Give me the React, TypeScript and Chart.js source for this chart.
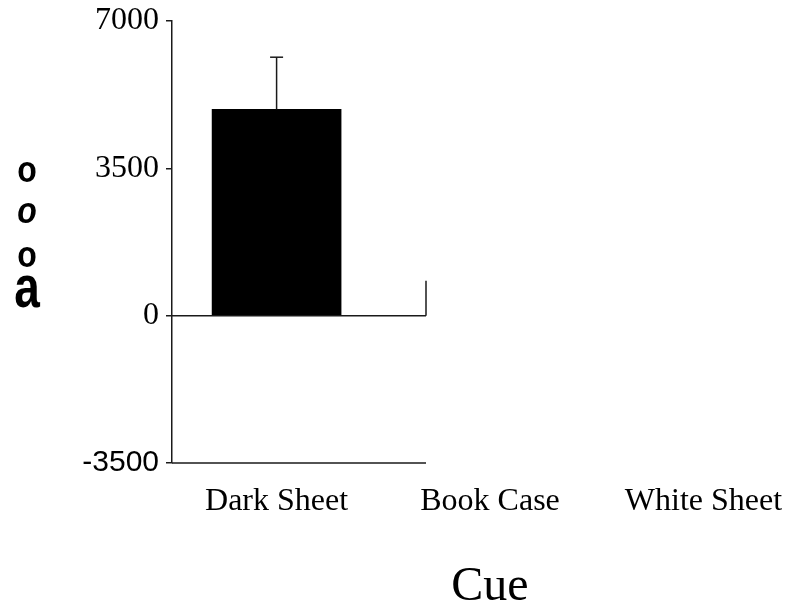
import React, { useEffect, useRef } from "react";
import { Chart, registerables } from "chart.js";

Chart.register(...registerables);

// ---- data ----
const categories = ["Dark Sheet", "Book Case", "White Sheet"];
const means = [4900, 0, 0];
const errors = [1240, 0, 0];
const yTicks = [-3500, 0, 3500, 7000];
const yMin = -3500;
const yMax = 7000;
const axisLineEnd = 0.7; // x value where the drawn baseline lines stop
const cornerStub = 830; // height of the small stub at the end of the zero line
const xTitle = "Cue";
const yTitleChars = ["o", "o", "o", "a"];

const decor = {
  id: "decor",
  afterDatasetsDraw(chart: any) {
    const { ctx, scales, chartArea } = chart;
    const x = scales.x;
    const y = scales.y;
    const line = (x1: number, y1: number, x2: number, y2: number) => {
      ctx.beginPath();
      ctx.moveTo(x1, y1);
      ctx.lineTo(x2, y2);
      ctx.stroke();
    };
    ctx.save();
    ctx.strokeStyle = "#1a1a1a";
    ctx.lineWidth = 1.5;
    const xl = chartArea.left;
    const xe = x.getPixelForValue(axisLineEnd);
    const y0 = y.getPixelForValue(0);
    const yb = y.getPixelForValue(yMin);
    line(xl, y0, xe, y0);
    line(xl, yb, xe, yb);
    line(xe, y0, xe, y.getPixelForValue(cornerStub));
    const meta = chart.getDatasetMeta(0);
    meta.data.forEach((bar: any, i: number) => {
      if (!errors[i]) return;
      const cx = bar.x;
      const top = y.getPixelForValue(means[i]);
      const et = y.getPixelForValue(means[i] + errors[i]);
      line(cx, top, cx, et);
      line(cx - 6.5, et, cx + 6.5, et);
    });
    ctx.restore();
  },
  afterDraw(chart: any) {
    const { ctx } = chart;
    ctx.save();
    ctx.fillStyle = "#000";
    ctx.textAlign = "center";
    ctx.textBaseline = "alphabetic";
    // y-axis title (stacked characters)
    const styles = [
      { font: "bold 32px 'Liberation Sans'", y: 174, sy: 1.15 },
      { font: "italic bold 32px 'Liberation Sans'", y: 215, sy: 1.15 },
      { font: "bold 32px 'Liberation Sans'", y: 259, sy: 1.15 },
      { font: "bold 46px 'Liberation Sans'", y: 299, sy: 1.3 },
    ];
    yTitleChars.forEach((ch, i) => {
      ctx.save();
      ctx.font = styles[i].font;
      ctx.translate(19, styles[i].y);
      ctx.scale(1, styles[i].sy);
      ctx.fillText(ch, 0, 0);
      ctx.restore();
    });
    // x-axis title
    ctx.font = "48px 'Liberation Serif'";
    ctx.fillText(xTitle, 482, chart.height - 1);
    ctx.restore();
  },
};

export default function App() {
  const ref = useRef<HTMLCanvasElement | null>(null);
  useEffect(() => {
    if (!ref.current) return;
    const chart = new Chart(ref.current, {
      type: "bar",
      data: {
        datasets: [
          {
            data: categories.map((_, i) => ({ x: i, y: means[i] })),
            backgroundColor: (c: any) =>
              c.raw && c.raw.y !== 0 ? "#000" : "rgba(0,0,0,0)",
            borderWidth: 0,
            barThickness: 129,
          },
        ],
      },
      options: {
        animation: false,
        responsive: true,
        maintainAspectRatio: false,
        layout: { padding: { top: 13, left: 0, right: 0, bottom: 0 } },
        plugins: { legend: { display: false }, tooltip: { enabled: false } },
        scales: {
          x: {
            type: "linear",
            offset: false,
            bounds: "ticks",
            min: -0.49,
            max: 2.41,
            grid: { display: false, drawTicks: false, offset: false },
            border: { display: false },
            afterBuildTicks: (s: any) => {
              s.ticks = categories.map((_, i) => ({ value: i }));
            },
            afterFit: (s: any) => {
              s.height = 138;
              s.paddingLeft = 0;
              s.paddingRight = 0;
            },
            ticks: {
              padding: 19,
              maxRotation: 0,
              autoSkip: false,
              color: "#000",
              font: { family: "'Liberation Serif'", size: 32 },
              callback: (v: any) => categories[v as number] ?? "",
            },
          },
          y: {
            type: "linear",
            min: yMin,
            max: yMax,
            afterBuildTicks: (s: any) => {
              s.ticks = yTicks.map((v) => ({ value: v }));
            },
            afterFit: (s: any) => {
              s.width = 164;
              s.paddingTop = 0;
              s.paddingBottom = 0;
            },
            grid: {
              drawOnChartArea: false,
              drawTicks: true,
              tickLength: 6,
              color: "#1a1a1a",
              lineWidth: 1.5,
            },
            border: { display: true, color: "#1a1a1a", width: 1.5 },
            ticks: {
              padding: 7,
              color: "#000",
              font: (c: any) =>
                c.tick && c.tick.value < 0
                  ? { family: "'Liberation Sans'", size: 30 }
                  : { family: "'Liberation Serif'", size: 32 },
              callback: (v: any) => String(v),
            },
          },
        },
      },
      plugins: [decor],
    });
    return () => chart.destroy();
  }, []);
  return (
    <div style={{ width: 783, height: 593, position: "relative" }}>
      <canvas ref={ref} />
    </div>
  );
}
